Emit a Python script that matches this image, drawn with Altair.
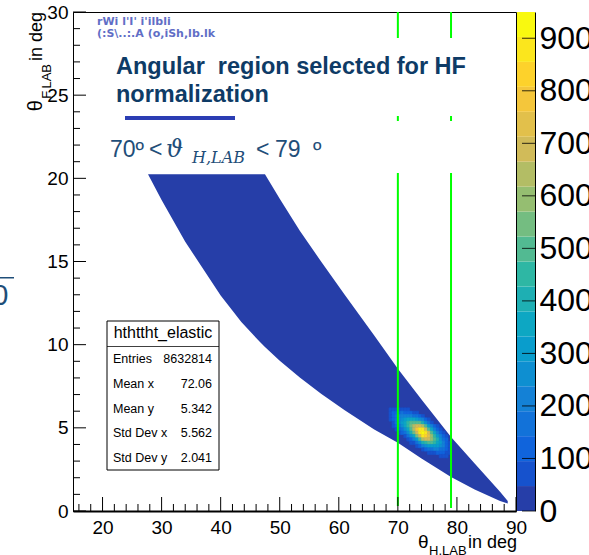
import altair as alt
import pandas as pd

# ---------------- values ----------------
# outline of the populated band (theta_H in deg, theta_F lower / upper edge in deg)
band_theta_h = [27.7, 30.0, 34.0, 40.0, 43.5, 46.7, 47.5, 50.0, 53.4, 57.0, 61.0, 66.0, 70.0, 74.0, 79.0, 83.0, 87.3, 88.6]
band_theta_f_low = [20.25, 18.69, 16.19, 12.95, 11.36, 10.14, 9.86, 9.04, 8.03, 7.05, 6.05, 4.9, 4.1, 3.15, 2.05, 1.3, 0.6, 0.45]
band_theta_f_high = [20.25, 20.25, 20.25, 20.25, 20.25, 20.25, 20.25, 18.78, 16.85, 15.0, 13.0, 10.55, 8.55, 6.7, 4.45, 2.85, 1.15, 0.6]

# hot spot: bin low edges and bin contents (0 = lowest colour level)
hot_theta_h_lo = [68.5, 69.0, 69.5, 70.0, 70.5, 71.0, 71.5, 72.0, 72.5, 73.0, 73.5,
                  74.0, 74.5, 75.0, 75.5, 76.0, 76.5, 77.0, 77.5, 78.0, 78.5]
hot_theta_f_lo = [6.0, 5.8, 5.6, 5.4, 5.2, 5.0, 4.8, 4.6, 4.4, 4.2, 4.0, 3.8, 3.6, 3.4, 3.2]
hot_counts = [
    [52, 75, 83, 83, 79, 68, 57, 0, 0, 0, 0, 0, 0, 0, 0, 0, 0, 0, 0, 0, 0],
    [67, 106, 128, 141, 148, 139, 127, 105, 85, 62, 0, 0, 0, 0, 0, 0, 0, 0, 0, 0, 0],
    [71, 123, 163, 198, 225, 235, 234, 213, 189, 153, 119, 81, 0, 0, 0, 0, 0, 0, 0, 0, 0],
    [61, 117, 169, 227, 283, 325, 354, 357, 345, 307, 263, 196, 123, 67, 0, 0, 0, 0, 0, 0, 0],
    [0, 92, 145, 214, 291, 370, 440, 489, 518, 508, 476, 390, 270, 161, 91, 0, 0, 0, 0, 0, 0],
    [0, 59, 101, 166, 246, 345, 449, 550, 636, 690, 708, 640, 482, 318, 198, 110, 60, 0, 0, 0, 0],
    [0, 0, 58, 105, 171, 265, 376, 509, 643, 770, 863, 861, 710, 516, 350, 215, 129, 68, 0, 0, 0],
    [0, 0, 0, 55, 97, 166, 258, 386, 533, 705, 863, 950, 857, 687, 509, 346, 226, 132, 71, 0, 0],
    [0, 0, 0, 0, 0, 86, 146, 240, 362, 529, 708, 861, 848, 751, 608, 456, 326, 210, 124, 61, 0],
    [0, 0, 0, 0, 0, 0, 67, 123, 203, 326, 476, 640, 690, 673, 596, 494, 385, 274, 177, 97, 0],
    [0, 0, 0, 0, 0, 0, 0, 52, 92, 165, 263, 390, 460, 496, 480, 438, 374, 294, 207, 125, 65],
    [0, 0, 0, 0, 0, 0, 0, 0, 0, 69, 119, 196, 252, 300, 317, 320, 298, 259, 199, 132, 76],
    [0, 0, 0, 0, 0, 0, 0, 0, 0, 0, 0, 81, 114, 149, 172, 191, 195, 187, 157, 115, 72],
    [0, 0, 0, 0, 0, 0, 0, 0, 0, 0, 0, 0, 0, 61, 77, 94, 105, 111, 102, 82, 56],
    [0, 0, 0, 0, 0, 0, 0, 0, 0, 0, 0, 0, 0, 0, 0, 0, 0, 54, 54, 48, 0],
]
hot_bin_w = 0.5
hot_bin_h = 0.2

cut_theta_h = [70, 79]
cut_theta_f_from = [0.3, 0.18]

x_major = [20, 30, 40, 50, 60, 70, 80, 90]
x_minor = [16, 18, 22, 24, 26, 28, 32, 34, 36, 38, 42, 44, 46, 48, 52, 54, 56, 58,
           62, 64, 66, 68, 72, 74, 76, 78, 82, 84, 86, 88]
y_major = [0, 5, 10, 15, 20, 25, 30]
y_minor = [1, 2, 3, 4, 6, 7, 8, 9, 11, 12, 13, 14, 16, 17, 18, 19, 21, 22, 23, 24, 26, 27, 28, 29]
z_labels = [0, 100, 200, 300, 400, 500, 600, 700, 800, 900]
z_max = 950
n_levels = 20

stats_title = "hthttht_elastic"
stats_names = ["Entries", "Mean x", "Mean y", "Std Dev x", "Std Dev y"]
stats_values = ["8632814", "72.06", "5.342", "5.562", "2.041"]

# ---------------- ROOT kBird palette, 20 contour levels ----------------
stops = [0.0, 0.125, 0.25, 0.375, 0.5, 0.625, 0.75, 0.875, 1.0]
pr = [0.2082, 0.0592, 0.0780, 0.0232, 0.1802, 0.5301, 0.8186, 0.9956, 0.9764]
pg = [0.1664, 0.3599, 0.5041, 0.6419, 0.7178, 0.7492, 0.7328, 0.7862, 0.9832]
pb = [0.5293, 0.8684, 0.8385, 0.7914, 0.6425, 0.4662, 0.3499, 0.1968, 0.0539]
pal = []
for g in range(1, len(stops)):
    ng = int(255 * stops[g]) - int(255 * stops[g - 1])
    for c in range(ng):
        t = c / ng
        pal.append((pr[g - 1] + t * (pr[g] - pr[g - 1]),
                    pg[g - 1] + t * (pg[g] - pg[g - 1]),
                    pb[g - 1] + t * (pb[g] - pb[g - 1])))
level_colors = []
for i in range(n_levels):
    k = min(int((i + 0.99) * len(pal) / n_levels), len(pal) - 1)
    r, g_, b = pal[k]
    level_colors.append("#%02x%02x%02x" % (round(r * 255), round(g_ * 255), round(b * 255)))
step = z_max / n_levels
thr = alt.Scale(type="threshold", domain=[step * k for k in range(1, n_levels)], range=level_colors)

# ---------------- layout ----------------
PL, PT = 73, 12
W, H = 443, 499
xs = alt.Scale(domain=[15, 90], nice=False, zero=False)
ys = alt.Scale(domain=[0, 30], nice=False, zero=False)
FONT = "Liberation Sans"
x_axis = alt.Axis(values=x_major, title=None, grid=False, ticks=False, tickSize=0,
                  labelFontSize=19, labelFont=FONT, labelColor="black", labelPadding=7,
                  labelFlush=False, domainColor="black", domainWidth=2)
y_axis = alt.Axis(values=y_major, title=None, grid=False, ticks=False, tickSize=0,
                  labelFontSize=19, labelFont=FONT, labelColor="black", labelPadding=5,
                  labelFlush=False, domainColor="black", domainWidth=1)


def X(f):
    return alt.X(f, scale=xs, axis=x_axis)


def Y(f):
    return alt.Y(f, scale=ys, axis=y_axis)


def one():
    return pd.DataFrame({"t": [""]})


def label(text, x, y, size, **kw):
    kw.setdefault("font", FONT)
    kw.setdefault("align", "left")
    kw.setdefault("baseline", "alphabetic")
    kw.setdefault("color", "black")
    return alt.Chart(pd.DataFrame({"t": [text]})).mark_text(fontSize=size, **kw).encode(
        x=alt.value(x - PL), y=alt.value(y - PT), text="t:N")


def box(x0, y0, x1, y1, **kw):
    return alt.Chart(one()).mark_rect(**kw).encode(
        x=alt.value(x0 - PL), x2=alt.value(x1 - PL), y=alt.value(y0 - PT), y2=alt.value(y1 - PT))


band_df = pd.DataFrame({"h": band_theta_h, "lo": band_theta_f_low, "hi": band_theta_f_high})
band = alt.Chart(band_df).mark_area(color=level_colors[0], orient="vertical").encode(
    x=X("h:Q"), y=Y("lo:Q"), y2="hi:Q")

cells = []
for j, f0 in enumerate(hot_theta_f_lo):
    for i, h0 in enumerate(hot_theta_h_lo):
        c = hot_counts[j][i]
        if c > 0:
            cells.append({"h0": h0, "h1": h0 + hot_bin_w, "f0": f0, "f1": f0 + hot_bin_h, "count": c})
cells_df = pd.DataFrame(cells)
hot = alt.Chart(cells_df).mark_rect(strokeWidth=0.6).encode(
    x=X("h0:Q"), x2="h1:Q", y=Y("f0:Q"), y2="f1:Q",
    color=alt.Color("count:Q", scale=thr, legend=None),
    stroke=alt.Stroke("count:Q", scale=thr, legend=None))

cut_df = pd.DataFrame({"h": cut_theta_h, "f0": cut_theta_f_from, "f1": [30, 30]})
cuts = alt.Chart(cut_df).mark_rule(color="#00ff00", strokeWidth=2).encode(
    x=X("h:Q"), y=Y("f0:Q"), y2="f1:Q")

tick_layers = [
    alt.Chart(pd.DataFrame({"v": x_major})).mark_rule(color="black").encode(
        x=X("v:Q"), y=alt.value(H), y2=alt.value(H - 14)),
    alt.Chart(pd.DataFrame({"v": x_minor})).mark_rule(color="black").encode(
        x=X("v:Q"), y=alt.value(H), y2=alt.value(H - 7)),
    alt.Chart(pd.DataFrame({"v": y_major})).mark_rule(color="black").encode(
        y=Y("v:Q"), x=alt.value(0), x2=alt.value(13)),
    alt.Chart(pd.DataFrame({"v": y_minor})).mark_rule(color="black").encode(
        y=Y("v:Q"), x=alt.value(0), x2=alt.value(7)),
]

navy = "#0e3b66"
fblue = "#1f4e79"
gblue = "#2b3db3"
overlay = [
    box(100, 38, 470, 116, color="white"),
    box(100, 121, 470, 173, color="white"),
    box(125, 116, 235, 120, color=gblue),
    label("rWi   l'I'   i'ilbli", 97, 25, 11, font="DejaVu Sans", fontWeight="bold", color=gblue, opacity=0.75),
    label("(:S\\..:.A  (o,iSh,lb.lk", 97, 37, 11, font="DejaVu Sans", fontWeight="bold", color=gblue, opacity=0.75),
    label("Angular \u00a0region selected for HF", 116, 74, 23.5, fontWeight="bold", color=navy),
    label("normalization", 116, 102, 23.5, fontWeight="bold", color=navy),
    label("70º", 110, 157, 23, color=fblue),
    label("<", 149, 157, 23, color=fblue),
    label("ϑ", 166, 157, 24, font="DejaVu Serif", fontStyle="italic", color=fblue),
    label("H,LAB", 192, 163, 16, font="DejaVu Serif", fontStyle="italic", color=fblue),
    label("<", 256, 157, 23, color=fblue),
    label("79", 275, 157, 23, color=fblue),
    label("º", 313, 157, 23, color=fblue),
    label("0", 8.5, 305, 29, align="right", color=fblue),
    box(0, 277, 14, 278.5, color=fblue),
]

stats = [
    box(107, 321, 219, 470, fill="white", stroke="black", strokeWidth=1),
    box(107, 346, 219, 346.8, color="black"),
    label(stats_title, 163, 333, 16, align="center", baseline="middle"),
]
for i, (nm, vv) in enumerate(zip(stats_names, stats_values)):
    yy = 359 + i * 24.75
    stats.append(label(nm, 113, yy, 12.5, baseline="middle"))
    stats.append(label(vv, 212, yy, 12.5, baseline="middle", align="right"))

titles = [
    label("θ", 418, 548, 19),
    label("H,LAB", 429, 555, 13),
    label("in deg", 468, 548, 18),
    label("in deg", 42, 12, 18, angle=270, align="right"),
    label("F,LAB", 51, 64, 13, angle=270, align="right"),
    label("θ", 42, 100, 20, angle=270, align="right"),
]

main = alt.layer(band, hot, cuts, *overlay, *stats, *tick_layers, *titles)

# ---------------- colour bar ----------------
zs = alt.Scale(domain=[0, z_max], nice=False, zero=False)
z_axis = alt.Axis(orient="right", offset=19, values=z_labels, title=None, grid=False, ticks=False,
                  tickSize=0, labelFontSize=32, labelFont=FONT, labelColor="black", labelPadding=4,
                  labelFlush=False, labelOverlap=False, domainColor="black", domainWidth=1)
cbar_df = pd.DataFrame({"z0": [k * step for k in range(n_levels)],
                        "z1": [(k + 1) * step for k in range(n_levels)],
                        "zc": [(k + 0.5) * step for k in range(n_levels)]})
cbar_rect = alt.Chart(cbar_df).mark_rect().encode(
    x=alt.value(444), x2=alt.value(462),
    y=alt.Y("z0:Q", scale=zs, axis=z_axis), y2="z1:Q",
    color=alt.Color("zc:Q", scale=thr, legend=None))
cbar_ticks = alt.Chart(pd.DataFrame({"z": z_labels})).mark_rule(color="black", opacity=0.8).encode(
    x=alt.value(449), x2=alt.value(462), y=alt.Y("z:Q", scale=zs, axis=z_axis))
cbar = alt.layer(cbar_rect, cbar_ticks)

chart = alt.layer(main, cbar).resolve_scale(y="independent").properties(
    width=W, height=H,
    padding={"left": PL, "top": PT, "right": 589 - PL - W, "bottom": 555 - PT - H},
    autosize=alt.AutoSizeParams(type="none"),
    background="white",
).configure_view(stroke="black", strokeWidth=1)

chart.save("out.html", embed_options={"renderer": "svg", "actions": False})
